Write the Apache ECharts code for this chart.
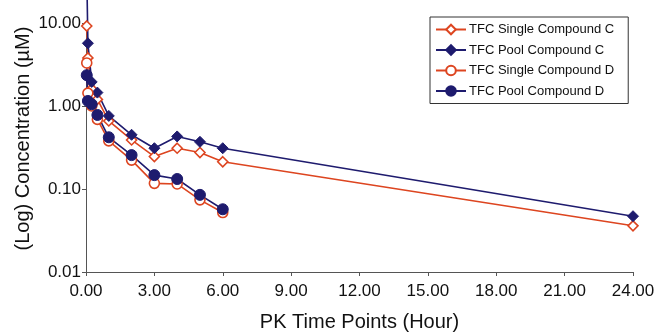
<!DOCTYPE html>
<html>
<head>
<meta charset="utf-8">
<script src="https://cdn.jsdelivr.net/npm/echarts@6/dist/echarts.min.js"></script>
<style>
  html, body { margin: 0; padding: 0; background: #fff; }
  #chart { width: 657px; height: 333px; }
</style>
</head>
<body>
<div id="chart"></div>
<script>
// PK time points (hours)
const timesC = [0.033, 0.083, 0.25, 0.5, 1, 2, 3, 4, 5, 6, 24];
const timesD = [0.033, 0.083, 0.25, 0.5, 1, 2, 3, 4, 5, 6];

// concentrations (µM); first pool C value runs off the top
const singleC = [9.2, 3.8, 1.6, 1.2, 0.66, 0.39, 0.246, 0.31, 0.275, 0.213, 0.036];
const poolC = [40, 5.7, 1.95, 1.45, 0.76, 0.45, 0.31, 0.43, 0.37, 0.31, 0.047];
const singleD = [3.3, 1.43, 1.0, 0.69, 0.38, 0.223, 0.117, 0.115, 0.074, 0.052];
const poolD = [2.35, 1.15, 1.05, 0.78, 0.42, 0.256, 0.147, 0.132, 0.085, 0.057];

const xTickStep = 3;
const yLogMin = 0.01;
const yLogMax = 10;

const ORANGE = '#dd4520';
const NAVY = '#1e1b6e';
const AXIS = '#555';
const FONT = 'Liberation Sans, Arial, sans-serif';

const pairs = (xs, ys) => xs.map((x, i) => [x, ys[i]]);

function line(name, xs, ys, color, symbol, size, hollow, extra) {
  return Object.assign({
    name,
    type: 'line',
    data: pairs(xs, ys),
    symbol,
    symbolSize: size,
    showAllSymbol: true,
    lineStyle: { color, width: 1.6 },
    itemStyle: hollow
      ? { color: '#fff', borderColor: color, borderWidth: 1.6 }
      : { color, borderColor: color, borderWidth: 1 },
    emphasis: { disabled: true },
  }, extra || {});
}

const chart = echarts.init(document.getElementById('chart'));
chart.setOption({
  animation: false,
  textStyle: { fontFamily: FONT },
  // fixed plot box; v6 would otherwise shrink it to fit axis names
  grid: { left: 86, right: 24, top: 23, bottom: 61, containLabel: false, outerBoundsMode: 'none' },
  legend: {
    left: 430, top: 17, orient: 'vertical',
    padding: [6, 14, 6, 5],
    itemGap: 7.5, itemWidth: 30, itemHeight: 12,
    borderColor: '#333', borderWidth: 1,
    textStyle: { fontSize: 13, color: '#111', fontFamily: FONT, padding: [0, 0, 0, -2] },
    data: ['TFC Single Compound C', 'TFC Pool Compound C', 'TFC Single Compound D', 'TFC Pool Compound D'],
  },
  xAxis: {
    type: 'value', min: 0, max: 24, interval: xTickStep,
    name: 'PK Time Points (Hour)', nameLocation: 'middle', nameGap: 40,
    nameMoveOverlap: false,
    nameTextStyle: { fontSize: 20, color: '#111', fontFamily: FONT },
    axisLine: { lineStyle: { color: AXIS, width: 1 } },
    axisTick: { show: true, length: 4, lineStyle: { color: AXIS } },
    axisLabel: { fontSize: 17, color: '#111', margin: 11, formatter: (v) => v.toFixed(2) },
    splitLine: { show: false },
  },
  yAxis: {
    type: 'log', logBase: 10, min: yLogMin, max: yLogMax,
    name: '(Log) Concentration (µM)', nameLocation: 'middle', nameGap: 53,
    nameMoveOverlap: false,
    nameTextStyle: { fontSize: 20, color: '#111', fontFamily: FONT, padding: [0, 0, 0, 18] },
    axisLine: { show: true, lineStyle: { color: AXIS, width: 1 } },
    axisTick: { show: true, length: 4, lineStyle: { color: AXIS } },
    minorTick: { show: false },
    axisLabel: { fontSize: 17, color: '#111', margin: 5, formatter: (v) => v.toFixed(2) },
    splitLine: { show: false },
  },
  series: [
    line('TFC Single Compound C', timesC, singleC, ORANGE, 'diamond', 10, true),
    line('TFC Pool Compound C', timesC, poolC, NAVY, 'diamond', 11, false, { clip: false }),
    line('TFC Single Compound D', timesD, singleD, ORANGE, 'circle', 10, true),
    line('TFC Pool Compound D', timesD, poolD, NAVY, 'circle', 11, false),
  ],
});
</script>
</body>
</html>
